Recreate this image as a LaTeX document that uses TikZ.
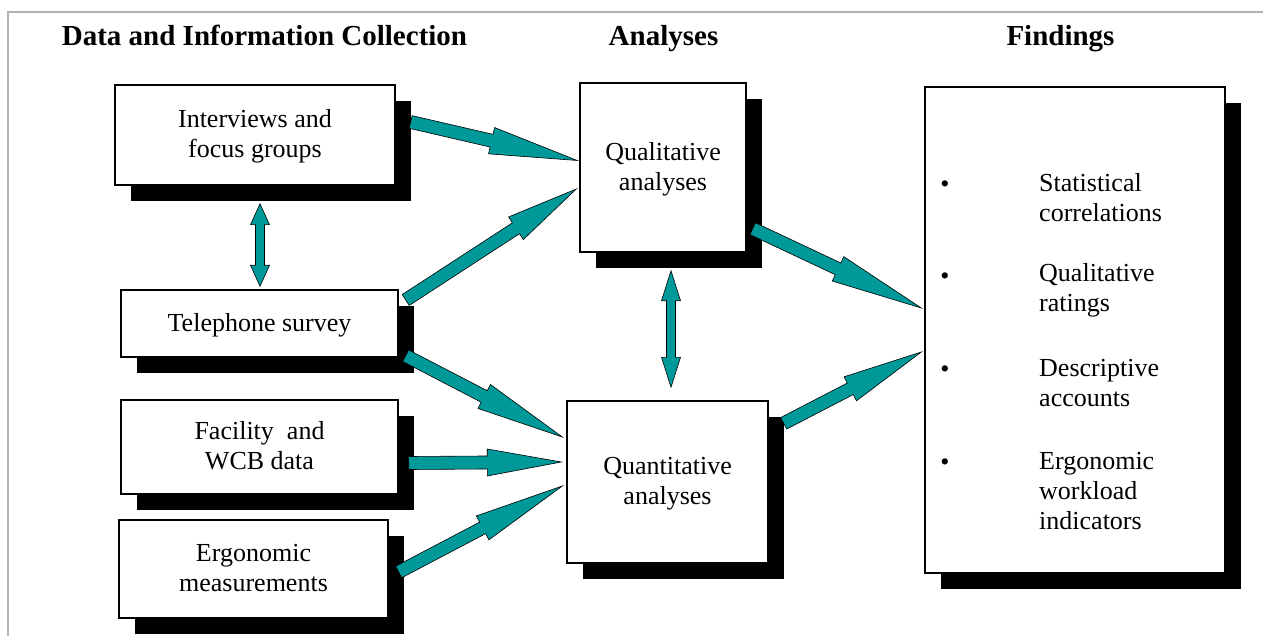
\documentclass[tikz,border=0pt]{standalone}
\usepackage{fontspec}
\setmainfont{Liberation Serif}
\usepackage{tikz}
\usetikzlibrary{calc, shadows}
\definecolor{arrowteal}{HTML}{009999}

\newcommand{\boxfont}{\fontsize{26}{30}\selectfont}
\newcommand{\headfont}{\fontsize{29}{33}\selectfont\bfseries}

% block arrow from coordinate #1 to coordinate #2, head length #3
\newcommand{\blockarrow}[3]{%
  \path ($(#2)!#3!(#1)$) coordinate (ba-h);
  \filldraw[flowarrow] ($(#1)!6.5pt!90:(#2)$) -- ($(ba-h)!6.5pt!90:(#2)$) -- ($(ba-h)!13.5pt!90:(#2)$) -- (#2)
    -- ($(ba-h)!13.5pt!-90:(#2)$) -- ($(ba-h)!6.5pt!-90:(#2)$) -- ($(#1)!6.5pt!-90:(#2)$) -- cycle;
}
% double block arrow between #1 and #2, head length #3
\newcommand{\dblarrow}[3]{%
  \path ($(#1)!#3!(#2)$) coordinate (da-a) ($(#2)!#3!(#1)$) coordinate (da-b);
  \filldraw[flowarrow] (#1) -- ($(da-a)!9.5pt!90:(#2)$) -- ($(da-a)!4.5pt!90:(#2)$) -- ($(da-b)!4.5pt!90:(#2)$)
    -- ($(da-b)!9.5pt!90:(#2)$) -- (#2) -- ($(da-b)!9.5pt!-90:(#2)$) -- ($(da-b)!4.5pt!-90:(#2)$)
    -- ($(da-a)!4.5pt!-90:(#2)$) -- ($(da-a)!9.5pt!-90:(#2)$) -- cycle;
}

\begin{document}
\begin{tikzpicture}[x=1pt, y=-1pt,
    box/.style={draw=black, line width=1.4pt, fill=white, align=center, font=\boxfont, inner sep=0pt,
      text depth=3pt, drop shadow={shadow xshift=16pt, shadow yshift=-16pt, fill=black, opacity=1}},
    heading/.style={font=\headfont, inner sep=0pt, anchor=base},
    itemtext/.style={font=\boxfont, align=left, anchor=west, inner sep=0pt},
    bullet/.style={font=\boxfont, inner sep=0pt},
    flowarrow/.style={fill=arrowteal, draw=black, line width=0.6pt, line join=miter}
  ]
  \useasboundingbox (0,0) rectangle (1263,636);
  \draw[gray!60, line width=1.5pt] (8,636) -- (8,12) -- (1263,12);

  % headings
  \node[heading] (h-data) at (264.5,46) {Data and Information Collection};
  \node[heading] (h-ana) at (663.5,46) {Analyses};
  \node[heading] (h-find) at (1060.5,46) {Findings};

  % collection
  \node[box, minimum width=280pt, minimum height=100pt] (intv) at (255,135) {Interviews and\\focus groups};
  \node[box, minimum width=277pt, minimum height=67pt] (tel) at (259.5,323.5) {Telephone survey};
  \node[box, minimum width=277pt, minimum height=94pt] (fac) at (259.5,447) {Facility~ and\\WCB data};
  \node[box, minimum width=269pt, minimum height=98pt] (ergo) at (253.5,569) {Ergonomic\\measurements};

  % analyses
  \node[box, minimum width=166pt, minimum height=169pt] (qual) at (663,167.5) {Qualitative\\analyses};
  \node[box, minimum width=201pt, minimum height=162pt] (quant) at (667.5,482) {Quantitative\\analyses};

  % findings
  \node[box, minimum width=300pt, minimum height=486pt] (find) at (1075,330) {};
  \node[itemtext] (f-stat) at (1039,198) {Statistical\\correlations};
  \node[itemtext] (f-qual) at (1039,290) {Qualitative\\ratings};
  \node[itemtext] (f-desc) at (1039,383) {Descriptive\\accounts};
  \node[itemtext] (f-ergo) at (1039,491) {Ergonomic\\workload\\indicators};
  \foreach \y/\n in {187/a, 279/b, 372/c, 465/d}
    \node[bullet] (bul-\n) at (945,\y) {•};

  % arrow ends
  \coordinate (a1s) at ($(intv.east)+(15,-13)$);
  \coordinate (a1t) at ($(qual.west)+(-2,-7)$);
  \coordinate (a2s) at ($(tel.east)+(7,-23.5)$);
  \coordinate (a2t) at ($(qual.west)+(-3,21.5)$);
  \coordinate (a3s) at ($(qual.south east)+(6,-24)$);
  \coordinate (a3t) at ($(find.west)+(-3,-22)$);
  \coordinate (a4s) at ($(tel.south east)+(7,-2)$);
  \coordinate (a4t) at ($(quant.west)+(-4,-45)$);
  \coordinate (a5s) at ($(fac.east)+(10,16)$);
  \coordinate (a5t) at ($(quant.west)+(-5,-20)$);
  \coordinate (a6s) at ($(ergo.east)+(10,3)$);
  \coordinate (a6t) at ($(quant.west)+(-4,4)$);
  \coordinate (a7s) at ($(quant.north east)+(15,23)$);
  \coordinate (a7t) at ($(find.west)+(-3,22)$);
  \coordinate (d1s) at ($(intv.south)+(5,18)$);
  \coordinate (d1t) at ($(tel.north)+(0.5,-3)$);
  \coordinate (d2s) at ($(qual.south)+(8,18)$);
  \coordinate (d2t) at ($(quant.north)+(3.5,-13)$);

  % arrows
  \blockarrow{a1s}{a1t}{88pt}
  \blockarrow{a2s}{a2t}{72pt}
  \blockarrow{a3s}{a3t}{92pt}
  \blockarrow{a4s}{a4t}{88pt}
  \blockarrow{a5s}{a5t}{74pt}
  \blockarrow{a6s}{a6t}{90pt}
  \blockarrow{a7s}{a7t}{80pt}
  \dblarrow{d1s}{d1t}{21pt}
  \dblarrow{d2s}{d2t}{30pt}
\end{tikzpicture}
\end{document}
